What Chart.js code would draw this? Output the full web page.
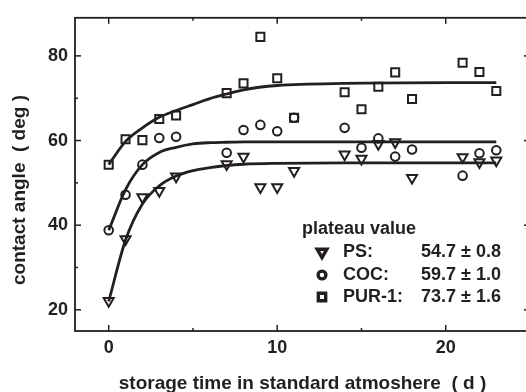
<!DOCTYPE html>
<html>
<head>
<meta charset="utf-8">
<script src="https://cdn.jsdelivr.net/npm/chart.js@4"></script>
<style>
  html, body { margin: 0; padding: 0; background: #fff; overflow: hidden; }
  #wrap { width: 526px; height: 392px; overflow: hidden; position: relative; }
  canvas { display: block; }
</style>
</head>
<body>
<div id="wrap"><canvas id="c" width="540" height="392"></canvas></div>
<script>
// ---- data ----
const DAYS = [0, 1, 2, 3, 4, 7, 8, 9, 10, 11, 14, 15, 16, 17, 18, 21, 22, 23];
const PS_VALUES  = [22.1, 36.7, 46.6, 48.1, 51.5, 54.4, 56.2, 49.0, 49.0, 52.8, 56.7, 55.7, 59.2, 59.6, 51.2, 56.1, 54.9, 55.3];
const COC_VALUES = [38.8, 47.2, 54.3, 60.6, 60.9, 57.1, 62.5, 63.7, 62.2, 65.4, 63.0, 58.3, 60.5, 56.2, 57.9, 51.7, 57.0, 57.7];
const PUR_VALUES = [54.3, 60.3, 60.1, 65.1, 65.9, 71.2, 73.5, 84.5, 74.7, 65.4, 71.4, 67.4, 72.7, 76.1, 69.8, 78.4, 76.2, 71.7];

// fitted curves
const FIT_DAYS = [0, 1, 2, 3, 4, 5, 6, 7, 8, 10, 14, 23];
const PS_FIT   = [22.0, 36.5, 45.0, 49.3, 51.6, 52.9, 53.6, 54.1, 54.4, 54.6, 54.7, 54.7];
const COC_FIT  = [38.8, 48.4, 54.3, 57.2, 58.4, 59.2, 59.5, 59.6, 59.7, 59.7, 59.7, 59.7];
const PUR_FIT  = [54.3, 59.8, 63.0, 65.5, 67.1, 68.5, 69.9, 71.0, 72.0, 73.0, 73.5, 73.7];

const X_TICKS = [0, 10, 20];
const X_MINOR = [5, 15];
const Y_TICKS = [20, 40, 60, 80];
const Y_MINOR = [30, 50, 70];

const LEGEND_TITLE = 'plateau value';
const LEGEND_NAMES = ['PS:', 'COC:', 'PUR-1:'];
const LEGEND_VALUES = ['54.7 ± 0.8', '59.7 ± 1.0', '73.7 ± 1.6'];
const LEGEND_STYLES = ['triangle', 'circle', 'rect'];

const X_TITLE = 'storage time in standard atmoshere  ( d )';
const Y_TITLE = 'contact angle  ( deg )';

const INK = '#231f20';
const FONT = '"Liberation Sans", Arial, Helvetica, sans-serif';

const pts = (xs, ys) => xs.map((x, i) => ({ x, y: ys[i] }));

function markerSet(ys, style, radius, rot) {
  return {
    data: pts(DAYS, ys), showLine: false, pointStyle: style, pointRadius: radius,
    pointHoverRadius: radius, pointRotation: rot || 0, pointBorderWidth: 2,
    pointBorderColor: INK, pointBackgroundColor: 'rgba(0,0,0,0)', order: 2
  };
}
function fitSet(ys) {
  return {
    data: pts(FIT_DAYS, ys), showLine: true, pointRadius: 0, borderColor: INK,
    borderWidth: 2.8, cubicInterpolationMode: 'monotone', fill: false, order: 1
  };
}

const decor = {
  id: 'decor',
  afterDraw(chart) {
    const { ctx, chartArea: a, scales: { x, y } } = chart;
    ctx.save();
    ctx.strokeStyle = INK;
    ctx.lineWidth = 1.8;
    ctx.strokeRect(a.left, a.top, a.right - a.left, a.bottom - a.top);
    ctx.lineWidth = 1.5;
    const tick = (x1, y1, x2, y2) => { ctx.beginPath(); ctx.moveTo(x1, y1); ctx.lineTo(x2, y2); ctx.stroke(); };
    X_TICKS.forEach(v => { const px = x.getPixelForValue(v); tick(px, a.bottom, px, a.bottom - 6); tick(px, a.top, px, a.top + 6); });
    X_MINOR.forEach(v => { const px = x.getPixelForValue(v); tick(px, a.bottom, px, a.bottom - 3); tick(px, a.top, px, a.top + 3); });
    Y_TICKS.forEach(v => { const py = y.getPixelForValue(v); tick(a.left, py, a.left + 6, py); tick(a.right, py, a.right - 6, py); });
    Y_MINOR.forEach(v => { const py = y.getPixelForValue(v); tick(a.left, py, a.left + 3, py); tick(a.right, py, a.right - 3, py); });

    // axis titles
    ctx.fillStyle = INK;
    ctx.font = 'bold 19px ' + FONT;
    ctx.textAlign = 'center';
    ctx.textBaseline = 'middle';
    ctx.fillText(X_TITLE, (a.left + a.right) / 2, 384);
    ctx.save();
    ctx.translate(20, 190);
    ctx.rotate(-Math.PI / 2);
    ctx.fillText(Y_TITLE, 0, 0);
    ctx.restore();

    // legend box
    ctx.font = 'bold 18px ' + FONT;
    ctx.textAlign = 'left';
    ctx.textBaseline = 'alphabetic';
    ctx.fillText(LEGEND_TITLE, 302, 234);
    const rowsY = [252, 275, 297];
    LEGEND_NAMES.forEach((name, i) => {
      const cy = rowsY[i];
      ctx.textBaseline = 'middle';
      ctx.fillStyle = INK;
      ctx.fillText(name, 343, cy);
      ctx.fillText(LEGEND_VALUES[i], 421, cy);
      ctx.lineWidth = 3.4;
      ctx.strokeStyle = INK;
      ctx.fillStyle = '#ffffff';
      const st = LEGEND_STYLES[i];
      const r = st === 'triangle' ? 5.6 : (st === 'rect' ? 5.2 : 3.9);
      Chart.helpers.drawPoint(ctx, { pointStyle: st, rotation: st === 'triangle' ? 180 : 0, radius: r, borderWidth: 3.4 }, 322, cy);
    });
    ctx.restore();
  }
};

new Chart(document.getElementById('c'), {
  type: 'scatter',
  data: {
    datasets: [
      markerSet(PS_VALUES, 'triangle', 5.8, 180),
      markerSet(COC_VALUES, 'circle', 4.3),
      markerSet(PUR_VALUES, 'rect', 5.7),
      fitSet(PS_FIT),
      fitSet(COC_FIT),
      fitSet(PUR_FIT)
    ]
  },
  options: {
    responsive: false,
    animation: false,
    events: [],
    layout: { padding: { top: 15, right: 10, left: 0, bottom: 0 } },
    plugins: { legend: { display: false }, tooltip: { enabled: false } },
    scales: {
      x: {
        type: 'linear', min: -2, max: 25,
        grid: { display: false, drawTicks: false }, border: { display: false },
        afterBuildTicks: s => { s.ticks = X_TICKS.map(v => ({ value: v })); },
        afterFit: s => { s.height = 61; },
        ticks: { color: INK, font: { family: FONT, size: 18, weight: 'bold' }, padding: 6, maxRotation: 0 }
      },
      y: {
        type: 'linear', min: 15, max: 89,
        grid: { display: false, drawTicks: false }, border: { display: false },
        afterBuildTicks: s => { s.ticks = Y_TICKS.map(v => ({ value: v })); },
        afterFit: s => { s.width = 75; },
        ticks: { color: INK, font: { family: FONT, size: 18, weight: 'bold' }, padding: 7 }
      }
    }
  },
  plugins: [decor]
});
</script>
</body>
</html>
